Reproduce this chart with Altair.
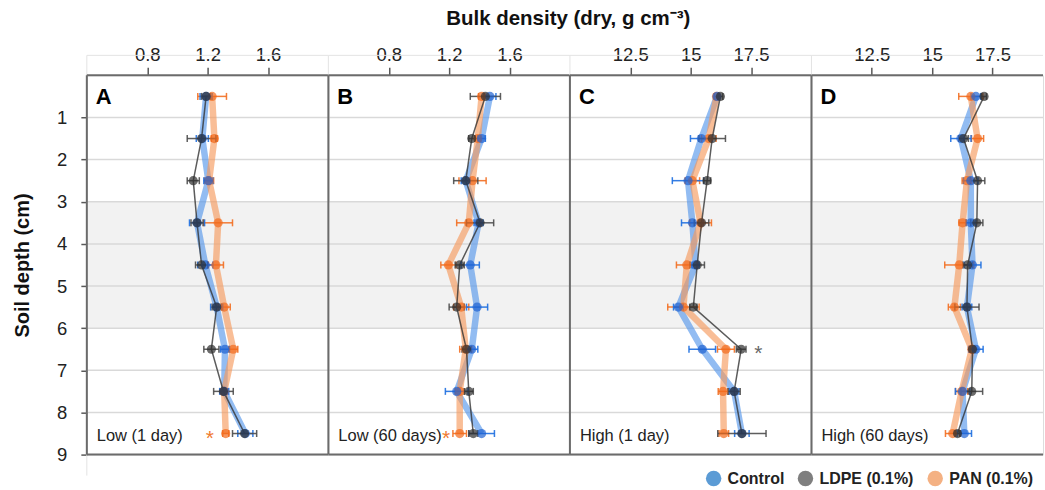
import altair as alt
import pandas as pd

# ---------------- data ----------------
depths = [0.5, 1.5, 2.5, 3.5, 4.5, 5.5, 6.5, 7.5, 8.5]
series_names = ["Control", "LDPE (0.1%)", "PAN (0.1%)"]
grid_depths = [1, 2, 3, 4, 5, 6, 7, 8]
band_depths = [3, 6]
y_tick_values = [1, 2, 3, 4, 5, 6, 7, 8, 9]
x_ticks_low = [0.8, 1.2, 1.6]
x_ticks_high = [12.5, 15, 17.5]

# Panel A  Low (1 day)
a_control = [1.19, 1.165, 1.205, 1.13, 1.185, 1.26, 1.315, 1.31, 1.45]
a_control_err = [0.04, 0.04, 0.03, 0.05, 0.05, 0.04, 0.03, 0.03, 0.05]
a_ldpe = [1.19, 1.16, 1.105, 1.13, 1.16, 1.26, 1.225, 1.305, 1.445]
a_ldpe_err = [0.03, 0.095, 0.04, 0.04, 0.04, 0.03, 0.05, 0.065, 0.08]
a_pan = [1.23, 1.245, 1.21, 1.27, 1.255, 1.31, 1.37, 1.31, 1.32]
a_pan_err = [0.095, 0.02, 0.03, 0.095, 0.05, 0.04, 0.03, 0.02, 0.02]

# Panel B  Low (60 days)
b_control = [1.47, 1.415, 1.31, 1.395, 1.34, 1.385, 1.35, 1.25, 1.415]
b_control_err = [0.04, 0.025, 0.03, 0.03, 0.06, 0.07, 0.04, 0.075, 0.085]
b_ldpe = [1.44, 1.35, 1.31, 1.405, 1.27, 1.25, 1.315, 1.33, 1.36]
b_ldpe_err = [0.1, 0.02, 0.08, 0.09, 0.03, 0.05, 0.03, 0.03, 0.03]
b_pan = [1.415, 1.39, 1.355, 1.33, 1.195, 1.28, 1.31, 1.27, 1.27]
b_pan_err = [0.02, 0.02, 0.09, 0.08, 0.05, 0.05, 0.04, 0.03, 0.045]

# Panel C  High (1 day)
c_control = [16.09, 15.44, 14.89, 15.07, 15.2, 14.49, 15.48, 16.8, 17.12]
c_control_err = [0.1, 0.45, 0.65, 0.45, 0.15, 0.2, 0.55, 0.2, 0.3]
c_ldpe = [16.23, 15.89, 15.68, 15.45, 15.27, 15.11, 17.09, 16.8, 17.12]
c_ldpe_err = [0.1, 0.55, 0.15, 0.3, 0.3, 0.15, 0.2, 0.25, 1.0]
c_pan = [16.07, 15.75, 15.07, 15.41, 14.84, 14.7, 16.46, 16.34, 16.37]
c_pan_err = [0.1, 0.3, 0.3, 0.45, 0.43, 0.65, 0.35, 0.2, 0.2]

# Panel D  High (60 days)
d_control = [16.81, 16.19, 16.6, 16.6, 16.67, 16.44, 16.81, 16.26, 16.33]
d_control_err = [0.2, 0.42, 0.3, 0.2, 0.35, 0.2, 0.3, 0.3, 0.3]
d_ldpe = [17.15, 16.3, 16.88, 16.85, 16.47, 16.44, 16.67, 16.64, 16.05]
d_ldpe_err = [0.1, 0.2, 0.3, 0.25, 0.2, 0.5, 0.1, 0.45, 0.1]
d_pan = [16.6, 16.88, 16.44, 16.26, 16.12, 15.92, 16.64, 16.22, 15.85]
d_pan_err = [0.5, 0.25, 0.2, 0.15, 0.6, 0.25, 0.1, 0.25, 0.3]

panel_letters = ["A", "B", "C", "D"]
panel_labels = ["Low (1 day)", "Low (60 days)", "High (1 day)", "High (60 days)"]

# significance asterisks
ast_panel = ["A", "B", "C"]
ast_value = [1.215, 1.18, 17.8]
ast_depth = [8.5, 8.5, 6.5]
ast_series = ["PAN (0.1%)", "PAN (0.1%)", "LDPE (0.1%)"]

# ---------------- styles ----------------
FONT = "Liberation Sans"
H = 380
line_style = {
    "Control": dict(color="#4f93ea", width=6.5, opacity=0.62),
    "PAN (0.1%)": dict(color="#f59a5c", width=6.5, opacity=0.64),
    "LDPE (0.1%)": dict(color="#333333", width=1.5, opacity=0.8),
}
err_color = {"Control": "#1e6fe0", "LDPE (0.1%)": "#4d4d4d", "PAN (0.1%)": "#f26f22"}
pt_color = {"Control": "#1f62d2", "LDPE (0.1%)": "#2e2e2e", "PAN (0.1%)": "#f26a1b"}
legend_colors = ["#5b9bd5", "#7f7f7f", "#f4b183"]
ast_colors = {"PAN (0.1%)": "#f07a30", "LDPE (0.1%)": "#666666"}

panel_data = {
    "A": ([a_control, a_ldpe, a_pan], [a_control_err, a_ldpe_err, a_pan_err], [0.4, 2.0], 242, x_ticks_low),
    "B": ([b_control, b_ldpe, b_pan], [b_control_err, b_ldpe_err, b_pan_err], [0.4, 2.0], 242, x_ticks_low),
    "C": ([c_control, c_ldpe, c_pan], [c_control_err, c_ldpe_err, c_pan_err], [10, 20], 242, x_ticks_high),
    "D": ([d_control, d_ldpe, d_pan], [d_control_err, d_ldpe_err, d_pan_err], [10, 19.59], 232, x_ticks_high),
}


def build_panel(idx):
    letter = panel_letters[idx]
    vals, errs, dom, W, xt = panel_data[letter]
    show_y = idx == 0

    xscale = alt.Scale(domain=dom, nice=False, zero=False)
    yscale = alt.Scale(domain=[0, 9], reverse=True, nice=False, zero=False)
    xaxis = alt.Axis(orient="top", values=xt, labelExpr="'' + datum.value", tickSize=8,
                     tickColor="#595959", tickWidth=1.5, labelFontSize=18.5, labelPadding=3,
                     labelColor="#222222", labelFont=FONT, domain=False, grid=False,
                     labelFlush=False)
    if show_y:
        yaxis = alt.Axis(values=y_tick_values, tickSize=6, tickColor="#595959", tickWidth=1.5,
                         labelFontSize=18.5, labelPadding=14, labelColor="#222222", labelFont=FONT,
                         domain=False, grid=False, title="Soil depth (cm)", titleFontSize=20,
                         titleFont=FONT, titleFontWeight="bold", titleColor="#111111",
                         titlePadding=24)
    else:
        yaxis = None

    def Y(field):
        return alt.Y(field, type="quantitative", scale=yscale, axis=yaxis, title="Soil depth (cm)")

    def X(field):
        return alt.X(field, type="quantitative", scale=xscale, axis=xaxis, title=None)

    layers = []
    band_df = pd.DataFrame({"y0": [band_depths[0]], "y1": [band_depths[1]]})
    layers.append(alt.Chart(band_df).mark_rect(color="#f2f2f2").encode(
        x=alt.value(0), x2=alt.value(W), y=Y("y0"), y2=alt.Y2("y1")))
    grid_df = pd.DataFrame({"g": grid_depths})
    layers.append(alt.Chart(grid_df).mark_rule(color="#d9d9d9", strokeWidth=1.5).encode(
        x=alt.value(0), x2=alt.value(W), y=Y("g")))

    dfs = {}
    for s, v, e in zip(series_names, vals, errs):
        dfs[s] = pd.DataFrame({"depth": depths, "value": v,
                               "lo": [a - b for a, b in zip(v, e)],
                               "hi": [a + b for a, b in zip(v, e)],
                               "series": s})

    for s in ["Control", "PAN (0.1%)", "LDPE (0.1%)"]:
        st = line_style[s]
        layers.append(alt.Chart(dfs[s]).mark_line(color=st["color"], strokeWidth=st["width"],
                                                  opacity=st["opacity"]).encode(
            x=X("value"), y=Y("depth"), order=alt.Order("depth:Q")))

    for s in ["PAN (0.1%)", "Control", "LDPE (0.1%)"]:
        c = err_color[s]
        layers.append(alt.Chart(dfs[s]).mark_rule(color=c, strokeWidth=1.5, opacity=0.9).encode(
            x=X("lo"), x2=alt.X2("hi"), y=Y("depth")))
        for f in ["lo", "hi"]:
            layers.append(alt.Chart(dfs[s]).mark_tick(color=c, orient="vertical", size=7,
                                                      thickness=1.5, opacity=0.9).encode(
                x=X(f), y=Y("depth")))

    for s in ["PAN (0.1%)", "Control", "LDPE (0.1%)"]:
        layers.append(alt.Chart(dfs[s]).mark_circle(color=pt_color[s], size=85, opacity=0.7).encode(
            x=X("value"), y=Y("depth")))

    # asterisks
    for p, av, ad, aser in zip(ast_panel, ast_value, ast_depth, ast_series):
        if p == letter:
            adf = pd.DataFrame({"value": [av], "depth": [ad], "t": ["*"]})
            layers.append(alt.Chart(adf).mark_text(color=ast_colors[aser], fontSize=21, font=FONT,
                                                   dy=5).encode(
                x=X("value"), y=Y("depth"), text="t:N"))

    # panel letter and condition label
    ldf = pd.DataFrame({"t": [letter]})
    layers.append(alt.Chart(ldf).mark_text(fontSize=22, fontWeight="bold", font=FONT, align="left",
                                           baseline="middle", color="#000000").encode(
        x=alt.value(9), y=alt.value(22), text="t:N"))
    cdf = pd.DataFrame({"t": [panel_labels[idx]]})
    layers.append(alt.Chart(cdf).mark_text(fontSize=16.5, font=FONT, align="left",
                                           baseline="middle", color="#222222").encode(
        x=alt.value(10), y=alt.value(361), text="t:N"))

    # faint outer frame above the panels
    bdf = pd.DataFrame({"k": [0]})
    fc = "#e3e3e3"
    layers.append(alt.Chart(bdf).mark_rule(color=fc, strokeWidth=1).encode(
        x=alt.value(0), x2=alt.value(W), y=alt.value(-20)))
    layers.append(alt.Chart(bdf).mark_rule(color=fc, strokeWidth=1).encode(
        x=alt.value(0), y=alt.value(-20), y2=alt.value(0)))
    if idx == 0:
        layers.append(alt.Chart(bdf).mark_rule(color=fc, strokeWidth=1).encode(
            x=alt.value(0), y=alt.value(H), y2=alt.value(H + 21)))

    # borders (left, top, bottom)
    bc = "#6b6b6b"
    layers.append(alt.Chart(bdf).mark_rule(color=bc, strokeWidth=2).encode(
        x=alt.value(0), y=alt.value(0), y2=alt.value(H)))
    layers.append(alt.Chart(bdf).mark_rule(color=bc, strokeWidth=2).encode(
        x=alt.value(0), x2=alt.value(W), y=alt.value(0)))
    layers.append(alt.Chart(bdf).mark_rule(color=bc, strokeWidth=2).encode(
        x=alt.value(0), x2=alt.value(W), y=alt.value(H)))

    if letter == "D":
        leg_df = pd.concat(list(dfs.values()))
        layers.append(alt.Chart(leg_df).mark_point(filled=True, opacity=0).encode(
            x=X("value"), y=Y("depth"),
            fill=alt.Fill("series:N", scale=alt.Scale(domain=series_names, range=legend_colors),
                          legend=alt.Legend(orient="none", legendX=620, legendY=396,
                                            direction="horizontal", title=None,
                                            symbolType="circle", symbolSize=240,
                                            symbolOpacity=1, symbolStrokeWidth=0,
                                            labelFont=FONT, labelFontSize=16,
                                            labelFontWeight="bold", labelColor="#222222",
                                            columnPadding=13, labelOffset=6))))

    return alt.layer(*layers).properties(width=W, height=H)


chart = alt.hconcat(*[build_panel(i) for i in range(4)], spacing=0, bounds="flush").properties(
    title=alt.TitleParams("Bulk density (dry, g cm\u207b\u00b3)", anchor="middle", fontSize=20.5,
                          font=FONT, fontWeight="bold", color="#111111", offset=15, dx=40),
    padding={"left": 12, "top": 9, "right": 0, "bottom": 0},
).configure_view(stroke=None).configure(font=FONT)

chart.save("out.html", embed_options={"renderer": "svg", "actions": False})
